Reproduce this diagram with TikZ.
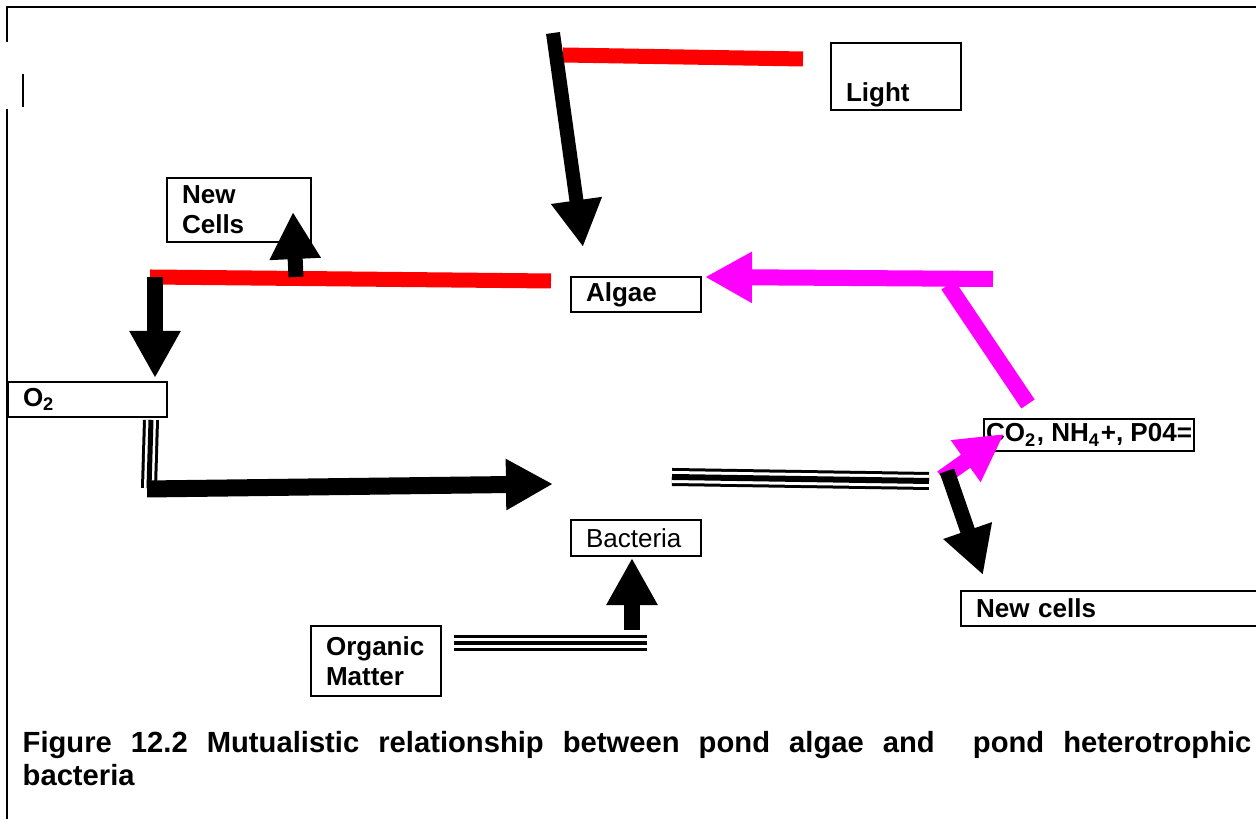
\documentclass[tikz,border=0pt]{standalone}
\usepackage{fontspec}
\setmainfont{Liberation Sans}
\usetikzlibrary{arrows.meta}

\newcommand\lblfont{\fontsize{7.4pt}{8.5pt}\selectfont\bfseries}
\newcommand\capfont{\fontsize{8.3pt}{10pt}\selectfont\bfseries}

\definecolor{pink}{RGB}{255,0,255}

\tikzset{
  box/.style={draw, line width=0.02cm, anchor=north west, inner ysep=0pt, inner xsep=0.15cm, align=left, font=\lblfont},
  blockarrow/.style={line width=#1, -{Triangle[length=0.47cm, width=0.48cm]}},
  bar/.style={line width=0.15cm, red},
  triple/.style n args={3}{line width=#1, postaction={draw, white, line width=#2}, postaction={draw, black, line width=#3}},
}

\begin{document}
\begin{tikzpicture}[x=0.01cm, y=-0.01cm]
  \useasboundingbox (0,0) rectangle (1256,819);
  \clip (0,0) rectangle (1256,819);

  % frame
  \draw[line width=0.02cm] (7,42) -- (7,7) -- (1256,7);
  \draw[line width=0.02cm] (23,74) -- (23,107);
  \draw[line width=0.02cm] (7,109) -- (7,819);

  % boxes
  \node[box, text width=1.00cm, minimum height=0.67cm] (light) at (830,42) {\strut\\[1.2pt]Light};
  \node[box, text width=1.14cm, minimum height=0.64cm] (cellsup) at (166,177) {New\\Cells};
  \node[box, text width=1.00cm, minimum height=0.35cm] (algae) at (570,276) {Algae};
  \node[box, text width=1.29cm, minimum height=0.35cm] (otwo) at (7,381) {O\textsubscript{2}};
  \node[box, inner xsep=0.02cm, minimum width=2.07cm, minimum height=0.32cm] (nutr) at (983,418)
    {CO\textsubscript{2}, NH\textsubscript{4}+, P04=};
  \node[box, text width=1.00cm, minimum height=0.36cm, font=\fontsize{7.4pt}{8.5pt}\selectfont] (bact) at (570,519) {Bacteria};
  \node[box, text width=2.90cm, minimum height=0.35cm] (cellsdn) at (960,590) {New cells};
  \node[box, text width=1.00cm, minimum height=0.70cm] (organic) at (310,625) {Organic\\Matter};

  % arrow ends
  \coordinate (sunA) at (553,33);   \coordinate (sunB) at (583,247);
  \coordinate (raytop) at (563,55); \coordinate (raytopR) at (803,59);
  \coordinate (rayL) at (150,277);  \coordinate (rayR) at (551,281);
  \coordinate (upA) at (296,277);   \coordinate (upB) at (293,212);
  \coordinate (dnA) at (155,277);   \coordinate (dnB) at (155,378);
  \coordinate (oA) at (151,420);    \coordinate (oB) at (149,488);
  \coordinate (feedA) at (147,489); \coordinate (feedB) at (553,484);
  \coordinate (outA) at (672,477);  \coordinate (outB) at (929,481);
  \coordinate (orgA) at (454,643);  \coordinate (orgB) at (647,643);
  \coordinate (bacA) at (632,630);  \coordinate (bacB) at (632,558);
  \coordinate (diagA) at (948,285); \coordinate (diagB) at (1028,404);
  \coordinate (nutA) at (993,279);  \coordinate (nutB) at (705,277);
  \coordinate (minA) at (942,478);  \coordinate (minB) at (1004,434);
  \coordinate (grA) at (947,471);   \coordinate (grB) at (983,575);

  % red bars
  \draw[bar] (raytop) -- (raytopR);
  \draw[bar] (rayL) -- (rayR);

  % triple lines
  \draw[triple={0.16cm}{0.10cm}{0.05cm}] (oA) -- (oB);
  \draw[triple={0.18cm}{0.12cm}{0.06cm}] (outA) -- (outB);
  \draw[triple={0.16cm}{0.10cm}{0.04cm}] (orgA) -- (orgB);

  % pink arrows
  \draw[pink, line width=0.16cm] (diagA) -- (diagB);
  \draw[pink, blockarrow=0.16cm] (nutA) -- (nutB);
  \draw[pink, blockarrow=0.16cm] (minA) -- (minB);

  % black arrows
  \draw[blockarrow=0.14cm] (sunA) -- (sunB);
  \draw[blockarrow=0.15cm] (upA) -- (upB);
  \draw[blockarrow=0.16cm] (dnA) -- (dnB);
  \draw[blockarrow=0.17cm] (feedA) -- (feedB);
  \draw[blockarrow=0.16cm] (bacA) -- (bacB);
  \draw[blockarrow=0.15cm] (grA) -- (grB);

  % caption
  \node[anchor=base west, inner sep=0pt, font=\capfont] (caption) at (22,753)
    {\makebox[12.28cm][s]{Figure 12.2 Mutualistic relationship between pond algae and\ \ pond heterotrophic}};
  \node[anchor=base west, inner sep=0pt, font=\capfont] (caption2) at (22,786) {bacteria};
\end{tikzpicture}
\end{document}
